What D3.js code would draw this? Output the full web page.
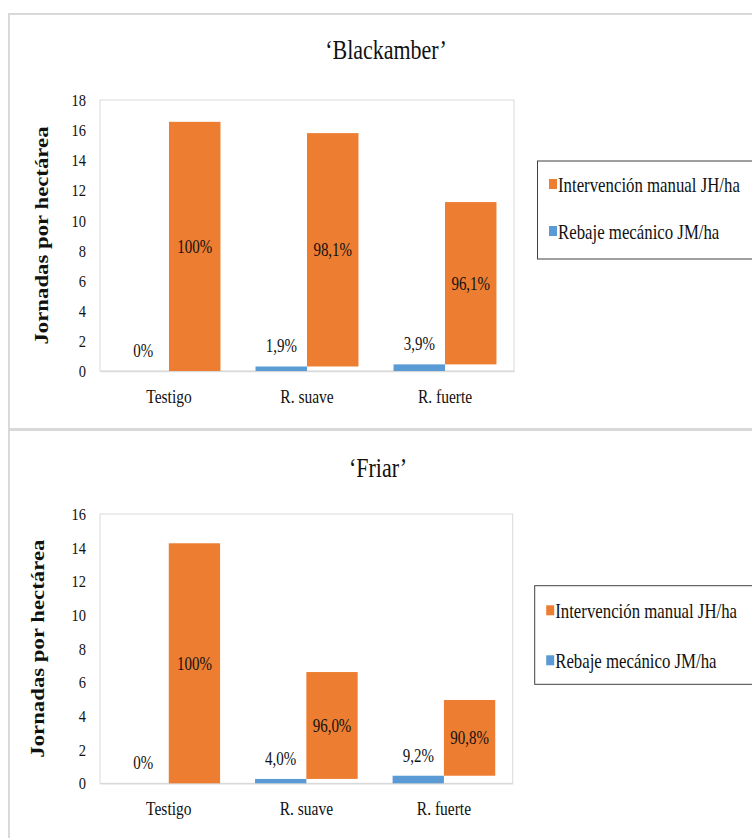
<!DOCTYPE html>
<html>
<head>
<meta charset="utf-8">
<script src="https://cdn.jsdelivr.net/npm/d3@7/dist/d3.min.js"></script>
<style>
  html, body { margin: 0; padding: 0; background: #fff; }
  svg { display: block; }
</style>
</head>
<body>
<svg id="chart" width="752" height="838"></svg>
<script>
// Labour days per hectare by pruning treatment, for two cultivars
const categories = ["Testigo", "R. suave", "R. fuerte"];
const seriesNames = ["Intervención manual JH/ha", "Rebaje mecánico JM/ha"];

const blackamberTitle = "‘Blackamber’";
const blackamberRebaje = [0, 0.30, 0.44];
const blackamberManual = [16.55, 15.50, 10.78];
const blackamberRebajeLabels = ["0%", "1,9%", "3,9%"];
const blackamberManualLabels = ["100%", "98,1%", "96,1%"];
const blackamberTicks = [0, 2, 4, 6, 8, 10, 12, 14, 16, 18];

const friarTitle = "‘Friar’";
const friarRebaje = [0, 0.26, 0.45];
const friarManual = [14.26, 6.35, 4.50];
const friarRebajeLabels = ["0%", "4,0%", "9,2%"];
const friarManualLabels = ["100%", "96,0%", "90,8%"];
const friarTicks = [0, 2, 4, 6, 8, 10, 12, 14, 16];

const yAxisTitle = "Jornadas por hectárea";

const COLOR_MANUAL = "#ED7D31";
const COLOR_REBAJE = "#5B9BD5";
const TEXT = "#111";
const FONT = "'Liberation Serif', 'Times New Roman', serif";
const SY = 1.2; // vertical stretch of the lettering

const svg = d3.select("#chart");

// outer frame of the two stacked chart panels
const frame = svg.append("g").attr("fill", "none").attr("stroke", "#d9d9d9");
frame.append("line").attr("x1", 8).attr("x2", 752).attr("y1", 14).attr("y2", 14).attr("stroke-width", 2);
frame.append("line").attr("x1", 9).attr("x2", 9).attr("y1", 13).attr("y2", 838).attr("stroke-width", 2);
frame.append("line").attr("x1", 8).attr("x2", 752).attr("y1", 429.5).attr("y2", 429.5).attr("stroke-width", 3);

function label(g, x, y, s, opt = {}) {
  const rot = opt.rotate ? ` rotate(${opt.rotate})` : "";
  return g.append("g")
    .attr("transform", `translate(${x},${y}) scale(1,${SY})${rot}`)
    .append("text")
    .attr("font-family", FONT)
    .attr("font-size", opt.size || 15)
    .attr("font-weight", opt.weight || "normal")
    .attr("text-anchor", opt.anchor || "middle")
    .attr("dy", opt.dy || 0)
    .attr("fill", opt.fill || TEXT)
    .text(s);
}

function drawPanel(p) {
  const g = svg.append("g");

  const x0 = d3.scaleBand().domain(categories)
    .range([p.left, p.right]).paddingInner(0.254).paddingOuter(0.127);
  const x1 = d3.scaleBand().domain(["rebaje", "manual"])
    .range([0, x0.bandwidth()]).padding(0);
  const y = d3.scaleLinear().domain([0, d3.max(p.ticks)]).range([p.bottom, p.top]);

  // title
  label(g, p.titleX, p.titleY, p.title, { size: 22 });

  // plot area border
  g.append("rect")
    .attr("x", p.left).attr("y", p.top)
    .attr("width", p.right - p.left).attr("height", p.bottom - p.top)
    .attr("fill", "none").attr("stroke", "#d9d9d9").attr("stroke-width", 1);

  // y axis
  const yAxis = g.append("g")
    .attr("transform", `translate(${p.left},0)`)
    .call(d3.axisLeft(y).tickValues(p.ticks).tickSize(0).tickPadding(14).tickFormat(d3.format("d")));
  yAxis.select(".domain").remove();
  yAxis.selectAll("text")
    .attr("font-family", FONT).attr("font-size", 14.5).attr("fill", TEXT)
    .attr("dy", "0.32em")
    .attr("transform", `scale(1,${SY})`);

  // category axis
  const xAxis = g.append("g")
    .attr("transform", `translate(0,${p.bottom})`)
    .call(d3.axisBottom(x0).tickSize(0));
  xAxis.select(".domain").attr("stroke", "#d9d9d9").attr("stroke-width", 1.5);
  xAxis.selectAll("text")
    .attr("font-family", FONT).attr("font-size", 15.5).attr("fill", TEXT)
    .attr("y", 0).attr("dy", 0)
    .attr("transform", `translate(0,32) scale(1,${SY})`);

  const rows = categories.map((c, i) => ({
    cat: c, rebaje: p.rebaje[i], manual: p.manual[i],
    rebajeLabel: p.rebajeLabels[i], manualLabel: p.manualLabels[i]
  }));

  const groups = g.selectAll(".cat").data(rows).join("g")
    .attr("class", "cat")
    .attr("transform", d => `translate(${x0(d.cat)},0)`);

  // mechanical pruning bars
  groups.append("rect")
    .attr("x", x1("rebaje")).attr("width", x1.bandwidth())
    .attr("y", d => y(d.rebaje))
    .attr("height", d => y(0) - y(d.rebaje))
    .attr("fill", COLOR_REBAJE);

  // manual work bars, sitting on top of the mechanical share
  groups.append("rect")
    .attr("x", x1("manual")).attr("width", x1.bandwidth())
    .attr("y", d => y(d.rebaje + d.manual))
    .attr("height", d => y(d.rebaje) - y(d.rebaje + d.manual))
    .attr("fill", COLOR_MANUAL);

  groups.each(function (d) {
    const gg = d3.select(this);
    label(gg, x1("rebaje") + x1.bandwidth() / 2, y(d.rebaje) - 14, d.rebajeLabel, { size: 15 });
    const mid = (y(d.rebaje) + y(d.rebaje + d.manual)) / 2;
    label(gg, x1("manual") + x1.bandwidth() / 2, mid, d.manualLabel, { size: 15, dy: "0.35em" });
  });

  // y axis title
  label(g, p.yTitleX, (p.top + p.bottom) / 2, yAxisTitle,
    { size: 19, weight: "bold", rotate: -90 });

  // legend
  const lg = g.append("g").attr("transform", `translate(${p.legendX},${p.legendY})`);
  lg.append("rect")
    .attr("x", 0).attr("y", 0).attr("width", 260).attr("height", p.legendH)
    .attr("fill", "#fff").attr("stroke", "#404040").attr("stroke-width", 1);
  const entries = [
    { name: seriesNames[0], color: COLOR_MANUAL },
    { name: seriesNames[1], color: COLOR_REBAJE }
  ];
  entries.forEach((e, i) => {
    const base = p.legendRows[i];
    lg.append("rect")
      .attr("x", 11.5).attr("y", base - 13).attr("width", 8).attr("height", 10)
      .attr("fill", e.color);
    label(lg, 20.5, base, e.name, { size: 16.8, anchor: "start" });
  });
}

drawPanel({
  title: blackamberTitle, titleX: 386, titleY: 59,
  ticks: blackamberTicks,
  rebaje: blackamberRebaje, manual: blackamberManual,
  rebajeLabels: blackamberRebajeLabels, manualLabels: blackamberManualLabels,
  left: 100, right: 514, top: 100, bottom: 371,
  yTitleX: 48,
  legendX: 537.5, legendY: 161, legendH: 98, legendRows: [31, 78]
});

drawPanel({
  title: friarTitle, titleX: 378, titleY: 477,
  ticks: friarTicks,
  rebaje: friarRebaje, manual: friarManual,
  rebajeLabels: friarRebajeLabels, manualLabels: friarManualLabels,
  left: 100, right: 512.7, top: 514, bottom: 783.3,
  yTitleX: 44,
  legendX: 534.7, legendY: 585.7, legendH: 98.6, legendRows: [32.6, 82.6]
});
</script>
</body>
</html>
